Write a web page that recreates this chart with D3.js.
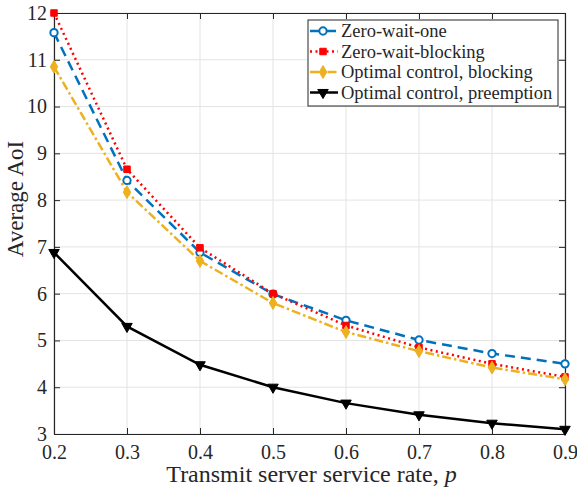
<!DOCTYPE html>
<html>
<head>
  <meta charset="utf-8">
  <script src="https://d3js.org/d3.v7.min.js"></script>
  <style>
    body { margin: 0; background: #fff; }
    svg text { font-family: 'Liberation Serif' !important; }
  </style>
</head>
<body>
<div id="chart"></div>
<script>
// data
var rates = [0.2, 0.3, 0.4, 0.5, 0.6, 0.7, 0.8, 0.9];
var zeroWaitOne = [11.58, 8.42, 6.88, 5.99, 5.43, 5.01, 4.72, 4.50];
var zeroWaitBlocking = [12.0, 8.66, 6.98, 6.0, 5.32, 4.85, 4.50, 4.22];
var optBlocking = [10.85, 8.17, 6.70, 5.80, 5.18, 4.77, 4.42, 4.17];
var optPreemption = [6.88, 5.30, 4.48, 4.00, 3.66, 3.41, 3.23, 3.10];
var xTicks = [0.2, 0.3, 0.4, 0.5, 0.6, 0.7, 0.8, 0.9];
var yTicks = [3, 4, 5, 6, 7, 8, 9, 10, 11, 12];

var series = [
  { name: "Zero-wait-one", values: zeroWaitOne, color: "#0072BD", dash: "10,6", marker: "circle" },
  { name: "Zero-wait-blocking", values: zeroWaitBlocking, color: "#FF0000", dash: "2,3.5", marker: "square" },
  { name: "Optimal control, blocking", values: optBlocking, color: "#EDB120", dash: "9,3,2.5,3", marker: "diamond" },
  { name: "Optimal control, preemption", values: optPreemption, color: "#000000", dash: null, marker: "triangleDown" }
];

var FONT = "Liberation Serif";

var W = 577, H = 490;
var margin = { top: 13, right: 12, bottom: 56, left: 54 };
var width = W - margin.left - margin.right,
    height = H - margin.top - margin.bottom;

var svg = d3.select("#chart").append("svg")
  .attr("width", W).attr("height", H)
  .attr("font-family", FONT);
var g = svg.append("g")
  .attr("transform", "translate(" + margin.left + "," + margin.top + ")");

var x = d3.scaleLinear().domain([0.2, 0.9]).range([0, width]);
var y = d3.scaleLinear().domain([3, 12]).range([height, 0]);

// grid
g.append("g").selectAll("line").data(xTicks).enter().append("line")
  .attr("x1", function(d) { return x(d); }).attr("x2", function(d) { return x(d); })
  .attr("y1", 0).attr("y2", height)
  .attr("stroke", "#e3e3e3").attr("stroke-width", 1);
g.append("g").selectAll("line").data(yTicks).enter().append("line")
  .attr("y1", function(d) { return y(d); }).attr("y2", function(d) { return y(d); })
  .attr("x1", 0).attr("x2", width)
  .attr("stroke", "#e3e3e3").attr("stroke-width", 1);

// axes, ticks inward on all sides
function styleAxis(sel) {
  sel.attr("font-family", FONT).attr("font-size", 20);
  sel.selectAll("path").attr("stroke", "#262626").attr("stroke-width", 1.2);
  sel.selectAll("line").attr("stroke", "#262626").attr("stroke-width", 1);
  sel.selectAll("text").attr("font-family", FONT).attr("fill", "#262626");
}
var fmtX = d3.format(".1f");
g.append("g").attr("transform", "translate(0," + height + ")")
  .call(d3.axisBottom(x).tickValues(xTicks).tickFormat(fmtX).tickSize(-6).tickSizeOuter(0).tickPadding(10.5))
  .call(styleAxis);
g.append("g")
  .call(d3.axisLeft(y).tickValues(yTicks).tickFormat(d3.format("d")).tickSize(-6).tickSizeOuter(0).tickPadding(7))
  .call(styleAxis);
g.append("g")
  .call(d3.axisTop(x).tickValues(xTicks).tickFormat("").tickSize(-6).tickSizeOuter(0))
  .call(styleAxis);
g.append("g").attr("transform", "translate(" + width + ",0)")
  .call(d3.axisRight(y).tickValues(yTicks).tickFormat("").tickSize(-6).tickSizeOuter(0))
  .call(styleAxis);

// lines
var line = d3.line()
  .x(function(d, i) { return x(rates[i]); })
  .y(function(d) { return y(d); });

var symbols = {
  circle: d3.symbol().type(d3.symbolCircle).size(42),
  square: d3.symbol().type(d3.symbolSquare).size(42),
  diamond: d3.symbol().type(d3.symbolDiamond).size(48),
  triangleDown: d3.symbol().type(d3.symbolTriangle).size(48)
};

function drawMarker(sel, s) {
  var p = sel.append("path").attr("d", symbols[s.marker]());
  if (s.marker === "circle") {
    p.attr("fill", "#fff").attr("stroke", s.color).attr("stroke-width", 2);
  } else {
    p.attr("fill", s.color).attr("stroke", s.color).attr("stroke-width", 1);
  }
  if (s.marker === "triangleDown") {
    p.attr("transform", "rotate(180)");
  }
  return p;
}

series.forEach(function(s) {
  g.append("path").datum(s.values)
    .attr("fill", "none")
    .attr("stroke", s.color)
    .attr("stroke-width", 2.5)
    .attr("stroke-dasharray", s.dash)
    .attr("d", line);
  s.values.forEach(function(v, i) {
    var m = g.append("g").attr("transform", "translate(" + x(rates[i]) + "," + y(v) + ")");
    drawMarker(m, s);
  });
});

// legend
var lg = svg.append("g").attr("transform", "translate(308,20)");
lg.append("rect").attr("width", 250).attr("height", 86)
  .attr("fill", "#fff").attr("stroke", "#262626").attr("stroke-width", 1);
series.forEach(function(s, i) {
  var row = lg.append("g").attr("transform", "translate(0," + (11 + i * 20.5) + ")");
  row.append("line").attr("x1", 2).attr("x2", 30).attr("y1", 0).attr("y2", 0)
    .attr("stroke", s.color).attr("stroke-width", 2.5)
    .attr("stroke-dasharray", s.dash);
  var m = row.append("g").attr("transform", "translate(15,0)");
  drawMarker(m, s);
  row.append("text").attr("x", 33).attr("y", 6)
    .attr("font-family", FONT).attr("font-size", 18.5).attr("fill", "#262626")
    .text(s.name);
});

// axis titles
svg.append("text")
  .attr("x", margin.left + width / 2 + 2).attr("y", 482)
  .attr("text-anchor", "middle").attr("font-size", 24)
  .attr("font-family", FONT).attr("fill", "#262626")
  .html('Transmit server service rate, <tspan font-style="italic">p</tspan>');
svg.append("text")
  .attr("transform", "translate(23,199) rotate(-90)")
  .attr("text-anchor", "middle").attr("font-size", 23)
  .attr("font-family", FONT).attr("fill", "#262626")
  .text("Average AoI");
</script>
</body>
</html>
